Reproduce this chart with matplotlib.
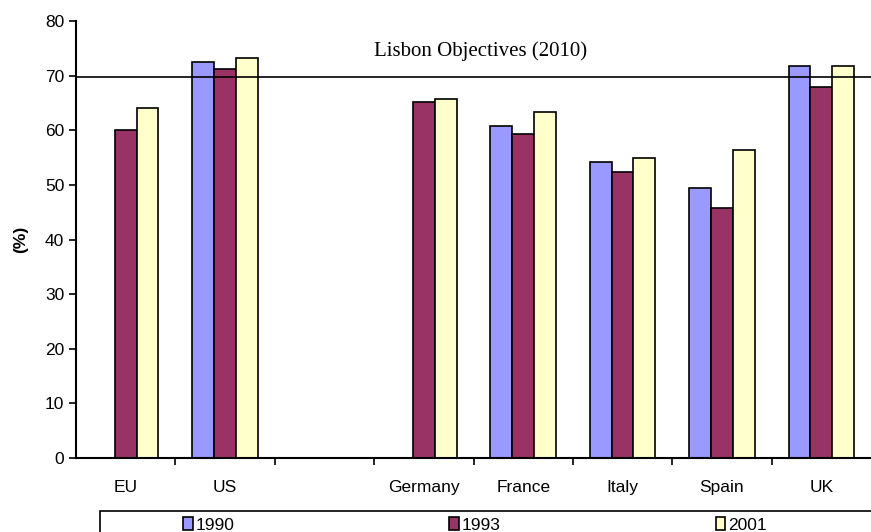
import matplotlib
matplotlib.use('Agg')
from matplotlib import pyplot as plt
from matplotlib.patches import Rectangle
import numpy as np

# categories (the empty one is the gap between US and Germany)
countries = ['EU', 'US', '', 'Germany', 'France', 'Italy', 'Spain', 'UK']
years = ['1990', '1993', '2001']

# employment rates (%) per year, nan = no bar
rate_1990 = [np.nan, 72.5, np.nan, np.nan, 60.7, 54.1, 49.4, 71.7]
rate_1993 = [60.0, 71.3, np.nan, 65.2, 59.3, 52.3, 45.7, 68.0]
rate_2001 = [64.0, 73.2, np.nan, 65.8, 63.3, 54.9, 56.3, 71.7]

lisbon_target = 69.8
colors = ['#9999FF', '#993366', '#FFFFCC']

plt.rcParams['font.family'] = ['Liberation Sans', 'DejaVu Sans']

fig = plt.figure(figsize=(8.71, 5.32), dpi=100)
ax = fig.add_axes([76 / 871, 1 - 458 / 532, 1 - 76 / 871, (458 - 21) / 532])

x = np.arange(len(countries))
w = 0.22
for i, (vals, col, yr) in enumerate(zip([rate_1990, rate_1993, rate_2001], colors, years)):
    ax.bar(x + (i - 1) * w, vals, width=w, color=col, edgecolor='black',
           linewidth=1.2, label=yr)

ax.axhline(lisbon_target, color='black', linewidth=1.2)
ax.text(3.57, 74.5, 'Lisbon Objectives (2010)', ha='center', va='center',
        fontsize=15, family=['Liberation Serif', 'DejaVu Serif'])

ax.set_xlim(-0.5, len(countries) - 0.5)
ax.set_ylim(0, 80)
ax.set_yticks(range(0, 81, 10))
ax.set_xticks(x)
ax.set_xticklabels(countries, fontsize=12.5)
ax.set_xticks(np.arange(0.5, len(countries) - 0.5, 1), minor=True)
ax.tick_params(axis='x', which='major', length=0, pad=16)
ax.tick_params(axis='x', which='minor', length=5, width=1.2, direction='out')
ax.tick_params(axis='y', labelsize=12.5, length=5, width=1.2, direction='out')
ax.spines['top'].set_visible(False)
ax.spines['right'].set_visible(False)
ax.spines['left'].set_linewidth(1.5)
ax.spines['bottom'].set_linewidth(1.5)
ax.set_ylabel('(%)', fontsize=12.5, fontweight='bold', labelpad=12)

# legend box running off the bottom edge
fig.patches.append(Rectangle((100 / 871, -0.05), 0.95, 0.05 + 21 / 532,
                             transform=fig.transFigure, fill=False,
                             edgecolor='black', linewidth=1.2))
fig.legend(loc='upper left', bbox_to_anchor=(183 / 871, 1 - 517 / 532), ncol=3,
           frameon=False, fontsize=12.5, handlelength=0.55, handleheight=0.8,
           handletextpad=0.15, columnspacing=12.4, borderpad=0, borderaxespad=0)

fig.savefig('out.png', dpi=100)
